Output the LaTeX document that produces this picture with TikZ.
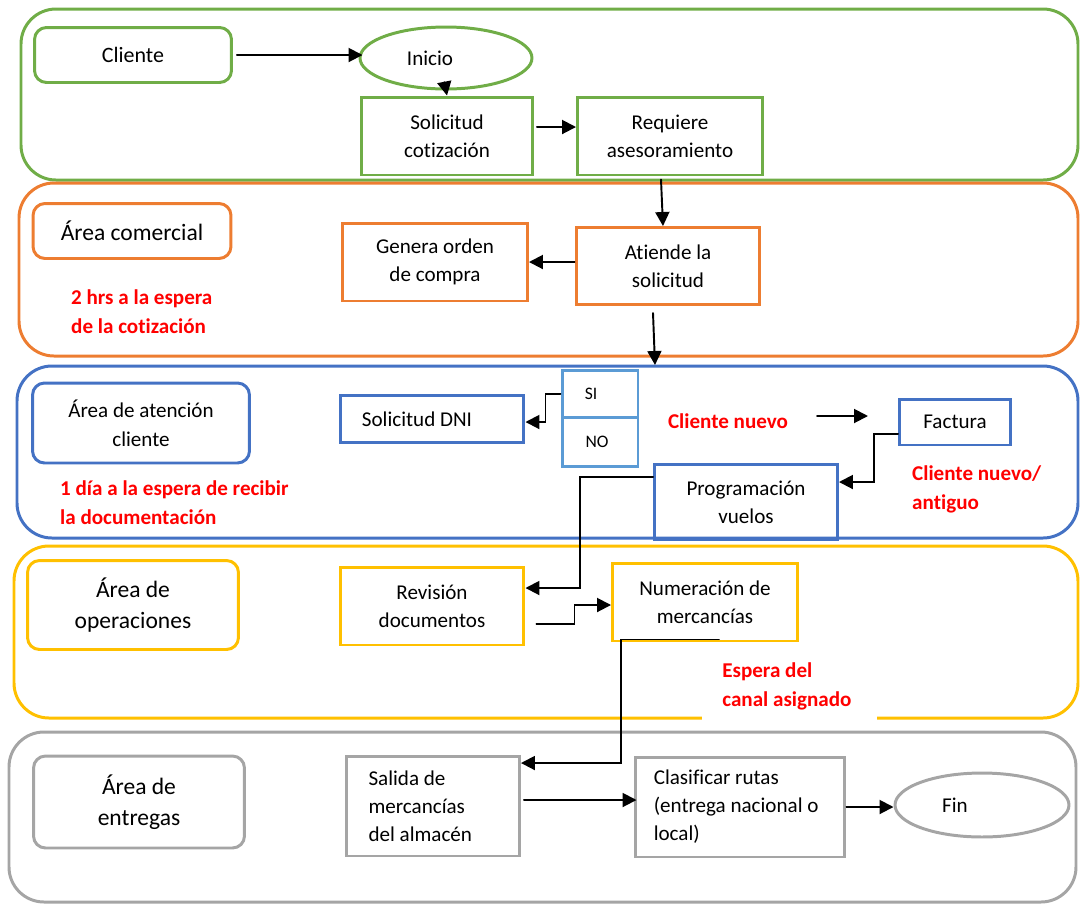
\documentclass[tikz,border=0pt]{standalone}
\usepackage{fontspec}
\setmainfont{Carlito}[Ligatures=NoCommon]
\usetikzlibrary{arrows.meta,shapes.geometric}

\definecolor{lgreen}{HTML}{70AD47}
\definecolor{lorange}{HTML}{ED7D31}
\definecolor{lblue}{HTML}{4472C4}
\definecolor{lsky}{HTML}{5B9BD5}
\definecolor{lyellow}{HTML}{FFC000}
\definecolor{lgray}{HTML}{A5A5A5}
\definecolor{lred}{HTML}{FF0000}

\begin{document}
\begin{tikzpicture}[x=0.02cm, y=-0.02cm, line cap=round, >={Triangle[length=0.28cm,width=0.28cm]},
	lane/.style={line width=1.7pt, rounded corners=0.7cm},
	lbl/.style={draw, line width=1.7pt, rounded corners=0.24cm, align=center, font=\fontsize{13.4}{17.6}\selectfont},
	box/.style={draw, line width=1.7pt, align=center, font=\fontsize{12}{16}\selectfont},
	oval/.style={draw, ellipse, line width=1.7pt, font=\fontsize{12}{16}\selectfont},
	cell/.style={draw=lsky, line width=1.7pt, minimum width=1.52cm, font=\fontsize{10}{12}\selectfont},
	note/.style={text=lred, font=\fontsize{12}{16.4}\selectfont\bfseries, align=flush left, anchor=west},
	arr/.style={->, line width=1.1pt}]
			\useasboundingbox (0,0) rectangle (1080,904);
			\draw [lane, lgreen] (21,9) rectangle (1078,180);
			\draw [lane, lorange] (19,183) rectangle (1078,356);
			\draw [lane, lblue] (17,366) rectangle (1078,538);
			\draw [lane, lyellow] (14,546) rectangle (1078,718);
			\draw [lane, lgray] (9,732) rectangle (1076,902);

			\node [lbl, draw=lgreen, minimum width=3.94cm, minimum height=1.1cm, font=\fontsize{12.5}{16}\selectfont] (cli) at (133,55) {Cliente};
			\node [lbl, draw=lorange, minimum width=3.96cm, minimum height=1.1cm] (com) at (132,231) {Área comercial};
			\node [lbl, draw=lblue, minimum width=4.34cm, minimum height=1.6cm, font=\fontsize{12}{16.4}\selectfont] (atn) at (141,423) {Área de atención\\cliente};
			\node [lbl, draw=lyellow, minimum width=4.22cm, minimum height=1.78cm] (ope) at (133,605) {Área de\\operaciones};
			\node [lbl, draw=lgray, minimum width=4.22cm, minimum height=1.84cm] (ent) at (139,802) {Área de\\entregas};

			\node [oval, draw=lgreen, minimum width=3.44cm, minimum height=1.24cm] (ini) at (446,58) {\raisebox{-0.06cm}{Inicio}\kern0.64cm};
			\node [box, draw=lgreen, minimum width=3.42cm, minimum height=1.56cm] (sol) at (447,136) {Solicitud\\cotización};
			\node [box, draw=lgreen, minimum width=3.7cm, minimum height=1.56cm] (req) at (670,136) {Requiere\\asesoramiento};
			\node [box, draw=lorange, minimum width=3.7cm, minimum height=1.56cm] (gen) at (435,262) {Genera orden\\de compra};
			\node [box, draw=lorange, minimum width=3.68cm, minimum height=1.54cm] (ate) at (668,266) {Atiende la\\solicitud};
			\node [box, draw=lblue, minimum width=3.68cm, minimum height=0.94cm] (dni) at (432,419) {Solicitud DNI\kern0.6cm};
			\node [cell, minimum height=0.96cm] (si) at (600,394) {SI\kern0.36cm};
			\node [cell, minimum height=0.98cm] (no) at (600,442) {NO\kern0.12cm};
			\node [box, draw=lblue, minimum width=2.22cm, minimum height=0.92cm] (fac) at (955,422) {Factura};
			\node [box, draw=lblue, minimum width=3.66cm, minimum height=1.52cm] (prog) at (746,502) {Programación\\vuelos};
			\node [box, draw=lyellow, minimum width=3.68cm, minimum height=1.56cm] (rev) at (432,606) {Revisión\\documentos};
			\node [box, draw=lyellow, minimum width=3.7cm, minimum height=1.56cm] (num) at (705,602) {Numeración de\\mercancías};
			\node [box, draw=lgray, minimum width=3.46cm, minimum height=2cm, text width=2.58cm, align=flush left] (sal) at (433,806) {Salida de\\mercancías\\del almacén};
			\node [box, draw=lgray, minimum width=4.2cm, minimum height=2cm, text width=3.45cm, align=flush left] (cla) at (740,807) {Clasificar rutas\\(entrega nacional o\\local)};
			\node [oval, draw=lgray, minimum width=3.48cm, minimum height=1.28cm] (fin) at (982,805) {Fin\kern1.08cm};

			\node [note] (n1) at (65,312) {2 hrs a la espera\\de la cotización};
			\node [note] (n2) at (54,503) {1 día a la espera de recibir\\la documentación};
			\node [note, anchor=center] (n3) at (728,421) {Cliente nuevo};
			\node [note] (n4) at (906,489) {Cliente nuevo/\\antiguo};
			\node [note, anchor=north west, fill=white, inner xsep=0.4cm, text width=2.7cm, minimum height=1.36cm] (n5) at (702,652) {Espera del\\canal asignado};

			\coordinate (ate-out) at (655,365);
			\coordinate (cn-a) at (817,416);
			\coordinate (cn-b) at (868,416);

			\draw [arr] ([xshift=0.08cm]cli.east) -- ([xshift=0.08cm]cli.east -| ini.west);
			\draw [arr] (ini.south) -- (sol.north);
			\draw [arr] ([shift={(0.06cm,0.18cm)}]sol.east) -- ([yshift=0.18cm]req.west);
			\draw [arr] ([shift={(-0.18cm,-0.06cm)}]req.south) -- ([xshift=-0.1cm]ate.north);
			\draw [arr] (ate.west |- gen.east) -- (gen.east);
			\draw [arr] ([shift={(-0.3cm,-0.14cm)}]ate.south) -- (ate-out);
			\draw [arr] (si.west) -- ++(-15,0) |- ([yshift=-0.06cm]dni.east);
			\draw [arr] (cn-a) -- (cn-b);
			\draw [arr] ([yshift=-0.24cm]fac.west) -- ++(-24,0) |- ([yshift=0.4cm]prog.east);
			\draw [arr] ([yshift=0.5cm]prog.west) -- ++(-73,0) |- ([yshift=0.36cm]rev.east);
			\draw [arr] ([shift={(0.22cm,-0.36cm)}]rev.east) -- ++(38,0) |- ([yshift=-0.06cm]num.west);
			\draw [arr] ([shift={(0.28cm,0.06cm)}]num.south) -- ++(-98,0) |- ([yshift=0.86cm]sal.east);
			\draw [arr] ([shift={(0.06cm,0.12cm)}]sal.east) -- ([shift={(0.06cm,0.12cm)}]sal.east -| cla.west);
			\draw [arr] (cla.east) -- (cla.east -| fin.west);
\end{tikzpicture}
\end{document}
